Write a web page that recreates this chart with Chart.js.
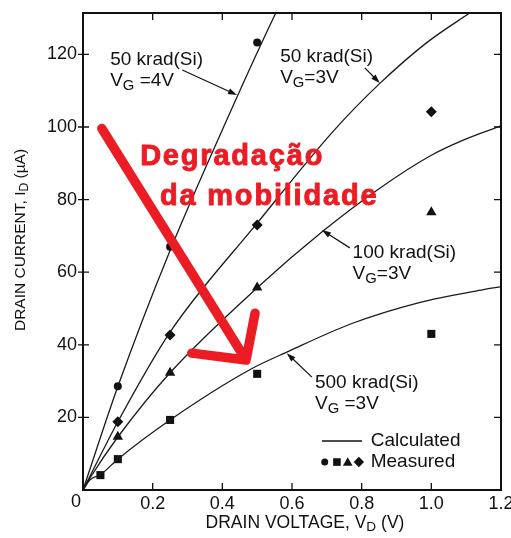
<!DOCTYPE html>
<html>
<head>
<meta charset="utf-8">
<title>Drain current vs drain voltage</title>
<script src="https://cdn.jsdelivr.net/npm/chart.js@4.4.1/dist/chart.umd.min.js"></script>
<style>
  html, body { margin: 0; padding: 0; background: #fff; }
  canvas { display: block; }
</style>
</head>
<body>
<canvas id="idvdChart" width="511" height="538"></canvas>
<script>
// Calculated curves: drain voltage (V) and drain current (uA)
const vd50k4V = [0, 0.1, 0.25, 0.42, 0.55, 0.57];
const id50k4V = [0, 28.5, 66, 103.5, 130.7, 134.5];
const vd50k3V = [0, 0.02, 0.1, 0.25, 0.5, 0.72, 0.85, 0.985, 1.11, 1.13];
const id50k3V = [0, 3.8, 18.8, 43.5, 73.5, 99, 111.8, 123.1, 131.4, 132.7];
const vd100k = [0, 0.02, 0.1, 0.25, 0.5, 0.69, 0.85, 1.0, 1.1, 1.2];
const id100k = [0, 3.3, 14.6, 32.3, 55.7, 71.4, 83, 92.2, 96.7, 100.3];
const vd500k = [0, 0.02, 0.05, 0.1, 0.25, 0.48, 0.59, 0.77, 0.96, 1.15, 1.2];
const id500k = [0, 2.8, 4.2, 8.5, 19.3, 33.2, 38.2, 45.8, 51.5, 55.2, 56];

// Measured points
const vdCircle = [0.1, 0.25, 0.5];
const idCircle = [28.6, 67, 123.3];
const vdSquare = [0.05, 0.1, 0.25, 0.5, 1.0];
const idSquare = [4.1, 8.5, 19.3, 32, 43];
const vdTriangle = [0.1, 0.25, 0.5, 1.0];
const idTriangle = [14.7, 32.3, 55.8, 76.5];
const vdDiamond = [0.1, 0.25, 0.5, 1.0];
const idDiamond = [18.8, 42.7, 73, 104.2];

const xTicks = [0.2, 0.4, 0.6, 0.8, 1.0, 1.2];
const yTicks = [20, 40, 60, 80, 100, 120];

const FONT = '"Liberation Sans", Arial, Helvetica, sans-serif';
const INK = '#111';

function pts(xs, ys) {
    return xs.map((x, i) => ({ x: x, y: ys[i] }));
}

function curve(xs, ys) {
    return {
        data: pts(xs, ys),
        showLine: true,
        borderColor: '#1a1a1a',
        borderWidth: 1.3,
        pointRadius: 0,
        cubicInterpolationMode: 'monotone'
    };
}

function markers(xs, ys, style, r) {
    return {
        data: pts(xs, ys),
        showLine: false,
        pointStyle: style,
        pointRadius: r,
        backgroundColor: INK,
        borderColor: INK,
        borderWidth: 0
    };
}

// text made of plain strings and {sub: '...'} pieces
function richWidth(ctx, parts, size) {
    let w = 0;
    parts.forEach(p => {
        if (typeof p === 'string') {
            ctx.font = size + 'px ' + FONT;
            w += ctx.measureText(p).width;
        } else {
            ctx.font = (size * 0.78) + 'px ' + FONT;
            w += ctx.measureText(p.sub).width;
        }
    });
    return w;
}

function richText(ctx, parts, x, y, size) {
    let cx = x;
    ctx.textBaseline = 'middle';
    ctx.textAlign = 'left';
    parts.forEach(p => {
        if (typeof p === 'string') {
            ctx.font = size + 'px ' + FONT;
            ctx.fillText(p, cx, y);
            cx += ctx.measureText(p).width;
        } else {
            ctx.font = (size * 0.78) + 'px ' + FONT;
            ctx.fillText(p.sub, cx, y + size * 0.25);
            cx += ctx.measureText(p.sub).width;
        }
    });
}

function arrow(ctx, x1, y1, x2, y2) {
    const a = Math.atan2(y2 - y1, x2 - x1);
    ctx.lineWidth = 1.2;
    ctx.beginPath();
    ctx.moveTo(x1, y1);
    ctx.lineTo(x2 - 6 * Math.cos(a), y2 - 6 * Math.sin(a));
    ctx.stroke();
    ctx.beginPath();
    ctx.moveTo(x2, y2);
    ctx.lineTo(x2 - 9 * Math.cos(a) + 3 * Math.sin(a), y2 - 9 * Math.sin(a) - 3 * Math.cos(a));
    ctx.lineTo(x2 - 9 * Math.cos(a) - 3 * Math.sin(a), y2 - 9 * Math.sin(a) + 3 * Math.cos(a));
    ctx.closePath();
    ctx.fill();
}

// letter-spaced heavy text: fill plus a thin outline in the same colour
function spacedText(ctx, text, x, y, spacing) {
    let cx = x;
    ctx.lineWidth = 0.9;
    ctx.lineJoin = 'round';
    for (const ch of text) {
        ctx.fillText(ch, cx, y);
        ctx.strokeText(ch, cx, y);
        cx += ctx.measureText(ch).width + spacing;
    }
}

const decorations = {
    id: 'decorations',
    afterDraw(chart) {
        const ctx = chart.ctx;
        const area = chart.chartArea;
        const xs = chart.scales.x;
        const ys = chart.scales.y;
        const X = v => xs.getPixelForValue(v);
        const Y = v => ys.getPixelForValue(v);

        ctx.save();
        ctx.strokeStyle = INK;
        ctx.fillStyle = INK;

        // frame
        ctx.lineWidth = 2;
        ctx.strokeRect(area.left, area.top, area.right - area.left, area.bottom - area.top);

        // inward tick marks on all four sides
        ctx.lineWidth = 1.3;
        ctx.beginPath();
        xTicks.slice(0, -1).forEach(v => {
            ctx.moveTo(X(v), area.bottom);
            ctx.lineTo(X(v), area.bottom - 7);
            ctx.moveTo(X(v), area.top);
            ctx.lineTo(X(v), area.top + 7);
        });
        yTicks.forEach(v => {
            ctx.moveTo(area.left - 5, Y(v));
            ctx.lineTo(area.left + 6, Y(v));
            ctx.moveTo(area.right, Y(v));
            ctx.lineTo(area.right - 7, Y(v));
        });
        ctx.stroke();

        // shared origin label
        ctx.font = '18px ' + FONT;
        ctx.textAlign = 'center';
        ctx.textBaseline = 'middle';
        ctx.fillText('0', area.left - 7, area.bottom + 12);

        // axis titles
        const xt = ['DRAIN VOLTAGE, V', { sub: 'D' }, ' (V)'];
        richText(ctx, xt, 305 - richWidth(ctx, xt, 17.5) / 2, 523, 17.5);
        const yt = ['DRAIN CURRENT, I', { sub: 'D' }, ' (\u00b5A)'];
        ctx.save();
        ctx.translate(21, 240);
        ctx.rotate(-Math.PI / 2);
        richText(ctx, yt, -richWidth(ctx, yt, 15.5) / 2, 0, 15.5);
        ctx.restore();

        // curve labels with pointer arrows
        const labels = [
            { x: 0.078, y: 118.5, dose: '50 krad(Si)', vg: ' =4V', from: [0.285, 115.7], to: [0.442, 108.8] },
            { x: 0.566, y: 119.3, dose: '50 krad(Si)', vg: '=3V', from: [0.809, 116.3], to: [0.852, 112.1] },
            { x: 0.774, y: 65.3, dose: '100 krad(Si)', vg: '=3V', from: [0.766, 66.7], to: [0.686, 71.6] },
            { x: 0.666, y: 29.5, dose: '500 krad(Si)', vg: ' =3V', from: [0.657, 31.1], to: [0.585, 37.7] }
        ];
        labels.forEach(l => {
            richText(ctx, [l.dose], X(l.x), Y(l.y), 19);
            richText(ctx, ['V', { sub: 'G' }, l.vg], X(l.x), Y(l.y) + 21, 19);
            arrow(ctx, X(l.from[0]), Y(l.from[1]), X(l.to[0]), Y(l.to[1]));
        });

        // key
        ctx.lineWidth = 1.3;
        ctx.beginPath();
        ctx.moveTo(X(0.686), Y(13.5));
        ctx.lineTo(X(0.801), Y(13.5));
        ctx.stroke();
        richText(ctx, ['Calculated'], X(0.826), Y(13.5), 19);
        richText(ctx, ['Measured'], X(0.826), Y(7.7), 19);
        const ky = Y(7.7);
        ctx.beginPath();
        ctx.arc(X(0.694), ky, 3.5, 0, Math.PI * 2);
        ctx.fill();
        ctx.fillRect(X(0.729) - 3.8, ky - 3.8, 7.6, 7.6);
        ctx.beginPath();
        ctx.moveTo(X(0.76), ky - 4.8);
        ctx.lineTo(X(0.76) + 4.8, ky + 3.8);
        ctx.lineTo(X(0.76) - 4.8, ky + 3.8);
        ctx.closePath();
        ctx.fill();
        ctx.beginPath();
        ctx.moveTo(X(0.792), ky - 5.2);
        ctx.lineTo(X(0.792) + 5.2, ky);
        ctx.lineTo(X(0.792), ky + 5.2);
        ctx.lineTo(X(0.792) - 5.2, ky);
        ctx.closePath();
        ctx.fill();

        // mobility degradation callout
        const red = '#ec1c24';
        ctx.strokeStyle = red;
        ctx.fillStyle = red;
        ctx.lineWidth = 9.5;
        ctx.lineCap = 'round';
        ctx.lineJoin = 'round';
        ctx.beginPath();
        ctx.moveTo(X(0.054), Y(99.6));
        ctx.lineTo(X(0.468), Y(35.8));
        ctx.moveTo(X(0.312), Y(37.7));
        ctx.lineTo(X(0.468), Y(35.8));
        ctx.lineTo(X(0.494), Y(48.7));
        ctx.stroke();

        ctx.font = 'bold 29px ' + FONT;
        ctx.textAlign = 'left';
        ctx.textBaseline = 'middle';
        spacedText(ctx, 'Degrada\u00e7\u00e3o', X(0.164), Y(91.8), 1.8);
        spacedText(ctx, 'da mobilidade', X(0.221), Y(80.8), 1.8);

        ctx.restore();
    }
};

const chart = new Chart(document.getElementById('idvdChart'), {
    type: 'scatter',
    data: {
        datasets: [
            curve(vd50k4V, id50k4V),
            curve(vd50k3V, id50k3V),
            curve(vd100k, id100k),
            curve(vd500k, id500k),
            markers(vdCircle, idCircle, 'circle', 4),
            markers(vdSquare, idSquare, 'rect', 5.7),
            markers(vdTriangle, idTriangle, 'triangle', 6),
            markers(vdDiamond, idDiamond, 'rectRot', 5.5)
        ]
    },
    options: {
        responsive: false,
        animation: false,
        devicePixelRatio: 1,
        layout: { padding: { top: 13, right: 10, left: 0, bottom: 0 } },
        plugins: {
            legend: { display: false },
            tooltip: { enabled: false }
        },
        scales: {
            x: {
                type: 'linear',
                min: 0,
                max: 1.2,
                afterBuildTicks: s => { s.ticks = xTicks.map(v => ({ value: v })); },
                afterFit: s => { s.height = 48; s.paddingLeft = 0; s.paddingRight = 0; },
                grid: { display: false, drawTicks: false },
                border: { display: false },
                ticks: {
                    padding: 3,
                    maxRotation: 0,
                    color: INK,
                    font: { family: FONT, size: 18 },
                    callback: v => v.toFixed(1)
                }
            },
            y: {
                type: 'linear',
                min: 0,
                max: 131.4,
                afterBuildTicks: s => { s.ticks = yTicks.map(v => ({ value: v })); },
                afterFit: s => { s.width = 83; s.paddingTop = 0; s.paddingBottom = 0; },
                grid: { display: false, drawTicks: false },
                border: { display: false },
                ticks: {
                    padding: 6,
                    color: INK,
                    font: { family: FONT, size: 18 },
                    callback: v => String(v)
                }
            }
        }
    },
    plugins: [decorations]
});
</script>
</body>
</html>
